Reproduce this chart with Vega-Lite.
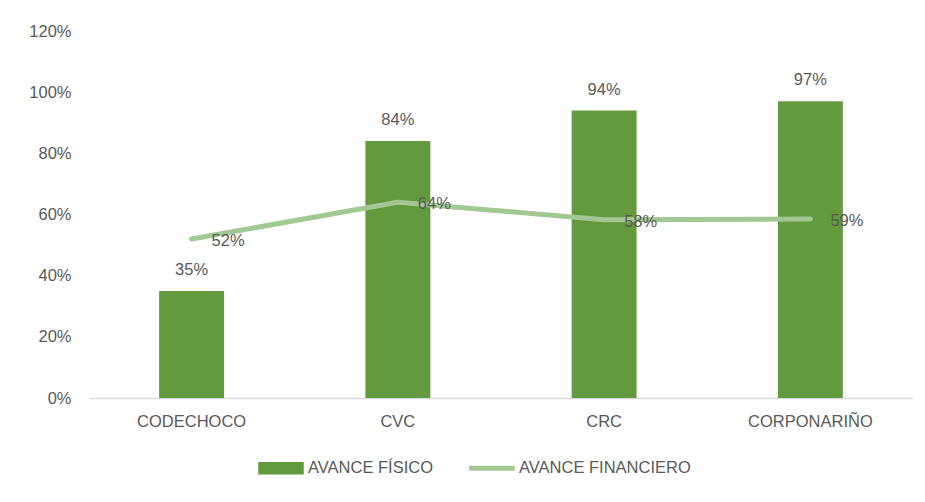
{
  "$schema": "https://vega.github.io/schema/vega-lite/v6.json",
  "width": 824,
  "height": 367,
  "autosize": {"type": "none"},
  "padding": {"left": 89, "top": 31, "right": 12, "bottom": 104},
  "background": "white",
  "config": {
    "view": {"stroke": null},
    "font": "Liberation Sans",
    "axis": {"labelFont": "Liberation Sans", "labelFontSize": 16.5, "labelColor": "#595959", "title": null, "grid": false, "ticks": false, "domain": false},
    "legend": {"labelFont": "Liberation Sans", "labelFontSize": 16.5, "labelColor": "#595959", "labelLimit": 400}
  },
  "data": {
    "values": [
      {"entidad": "CODECHOCO", "serie": "AVANCE FÍSICO", "valor": 0.35},
      {"entidad": "CVC", "serie": "AVANCE FÍSICO", "valor": 0.84},
      {"entidad": "CRC", "serie": "AVANCE FÍSICO", "valor": 0.94},
      {"entidad": "CORPONARIÑO", "serie": "AVANCE FÍSICO", "valor": 0.97},
      {"entidad": "CODECHOCO", "serie": "AVANCE FINANCIERO", "valor": 0.52},
      {"entidad": "CVC", "serie": "AVANCE FINANCIERO", "valor": 0.64},
      {"entidad": "CRC", "serie": "AVANCE FINANCIERO", "valor": 0.583},
      {"entidad": "CORPONARIÑO", "serie": "AVANCE FINANCIERO", "valor": 0.585}
    ]
  },
  "encoding": {
    "x": {
      "field": "entidad",
      "type": "nominal",
      "sort": ["CODECHOCO", "CVC", "CRC", "CORPONARIÑO"],
      "scale": {"paddingInner": 0.685, "paddingOuter": 0.34},
      "axis": {"labelAngle": 0, "labelPadding": 15, "domain": true, "domainColor": "#D9D9D9", "domainWidth": 1.5}
    },
    "y": {
      "field": "valor",
      "type": "quantitative",
      "scale": {"domain": [0, 1.2]},
      "axis": {"values": [0, 0.2, 0.4, 0.6, 0.8, 1.0, 1.2], "format": ".0%", "labelPadding": 18}
    }
  },
  "layer": [
    {
      "transform": [{"filter": "datum.serie === 'AVANCE FÍSICO'"}],
      "mark": {"type": "bar"},
      "encoding": {
        "color": {
          "field": "serie",
          "type": "nominal",
          "scale": {"domain": ["AVANCE FÍSICO", "AVANCE FINANCIERO"], "range": ["#629A3D", "#A3C893"]},
          "legend": {
            "orient": "none",
            "direction": "horizontal",
            "legendX": 169,
            "legendY": 414,
            "title": null,
            "symbolSize": 1936,
            "labelOffset": 4,
            "columnPadding": 34,
            "encode": {
              "symbols": {
                "update": {
                  "shape": {"signal": "datum.value === 'AVANCE FÍSICO' ? 'M-1,-0.25H1V0.25H-1Z' : 'M-1,-0.08H1V0.08H-1Z'"},
                  "fill": {"signal": "datum.value === 'AVANCE FÍSICO' ? '#629A3D' : '#A3C893'"},
                  "stroke": {"value": "transparent"},
                  "opacity": {"value": 1},
                  "fillOpacity": {"value": 1}
                }
              }
            }
          }
        }
      }
    },
    {
      "transform": [{"filter": "datum.serie === 'AVANCE FÍSICO'"}],
      "mark": {"type": "text", "baseline": "middle", "dy": -21, "fontSize": 16.5, "color": "#595959"},
      "encoding": {"text": {"field": "valor", "type": "quantitative", "format": ".0%"}}
    },
    {
      "transform": [{"filter": "datum.serie === 'AVANCE FINANCIERO'"}],
      "mark": {"type": "line", "strokeWidth": 5, "strokeCap": "round", "strokeJoin": "round"},
      "encoding": {"color": {"field": "serie", "type": "nominal"}}
    },
    {
      "transform": [{"filter": "datum.serie === 'AVANCE FINANCIERO'"}],
      "mark": {"type": "text", "align": "left", "baseline": "middle", "dx": 20, "dy": 2, "fontSize": 16.5, "color": "#595959"},
      "encoding": {"text": {"field": "valor", "type": "quantitative", "format": ".0%"}}
    }
  ]
}
